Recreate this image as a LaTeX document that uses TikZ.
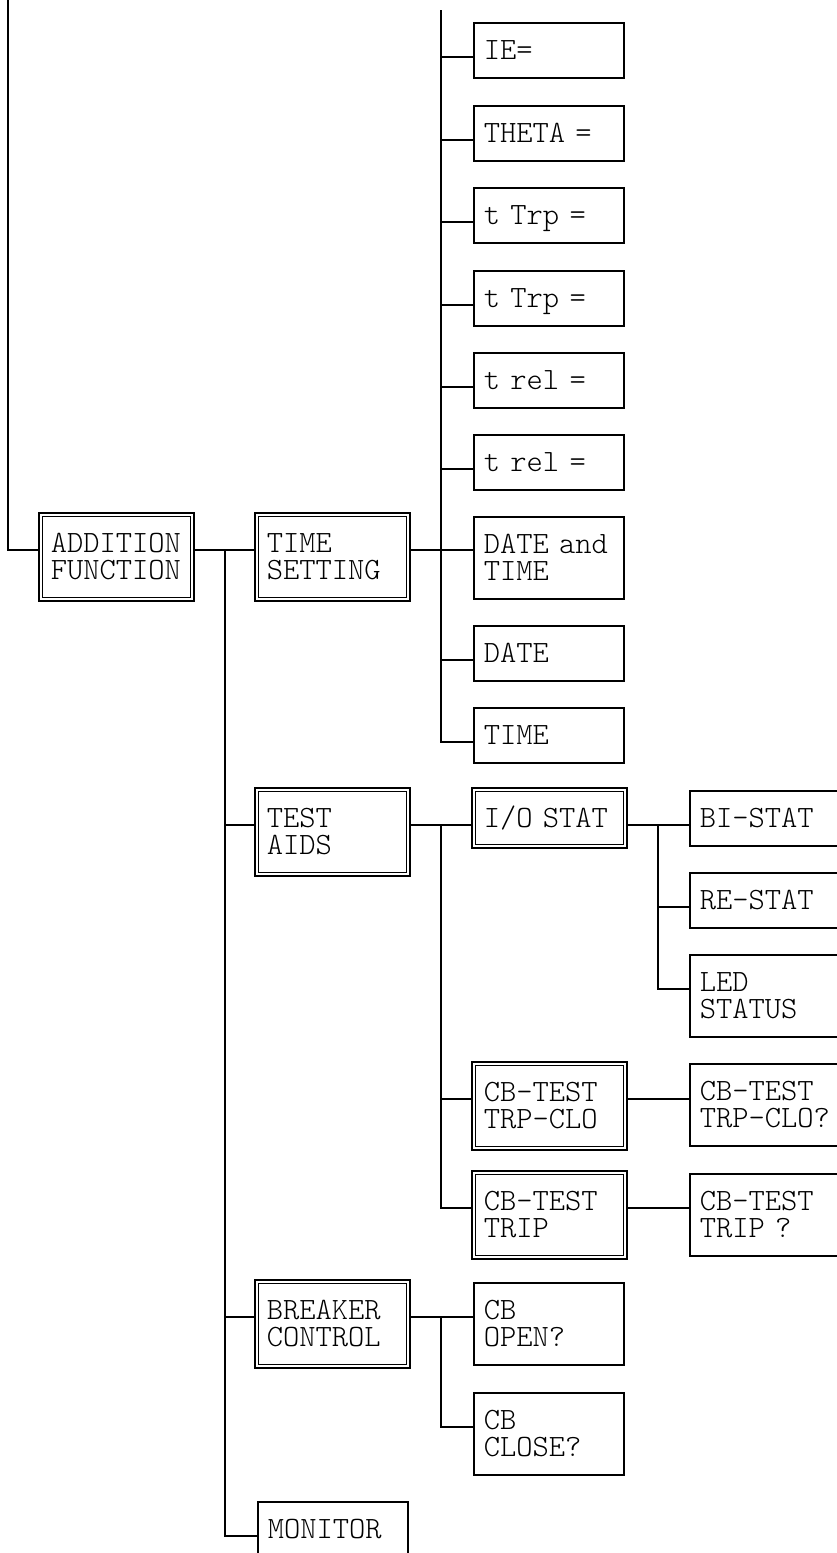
\documentclass[tikz,border=0pt]{standalone}
\usepackage{fontspec}
\usepackage{tikz}

\begin{document}
\begin{tikzpicture}[x=1pt,y=-1pt,
  item/.style={draw,line width=1.8pt,outer sep=0pt,anchor=north west,minimum width=150pt,minimum height=55pt,text width=130.5pt,inner xsep=9.75pt,align=left,text height=18pt,text depth=0pt,font=\ttfamily\fontseries{l}\fontsize{31}{27.5}\selectfont},
  two/.style={text depth=27.5pt,minimum height=82pt},
  menu/.style={item,double,line width=1.2pt,double distance=2.4pt,outer sep=1.8pt,minimum width=151.4pt,minimum height=84.4pt,text width=131.5pt,text depth=27.5pt},
  ln/.style={line width=1.8pt}
]
\useasboundingbox (0,0) rectangle (837,1553);
\clip (0,0) rectangle (837,1553);
% Menu levels
\node[menu]      (addfn)    at (39,513)   {ADDITION\\FUNCTION};
\node[menu]      (timeset)  at (255,513)  {TIME\\SETTING};
\node[menu]      (testaids) at (255,788)  {TEST\\AIDS};
\node[menu]      (breaker)  at (255,1280) {BREAKER\\CONTROL};
\node[item]      (monitor)  at (258,1502) {MONITOR};
% Setting values
\node[item]      (ie)       at (474,23)   {IE=};
\node[item]      (theta)    at (474,106)  {THETA =};
\node[item]      (ttrpa)    at (474,188)  {t Trp =};
\node[item]      (ttrpb)    at (474,271)  {t Trp =};
\node[item]      (trela)    at (474,353)  {t rel =};
\node[item]      (trelb)    at (474,435)  {t rel =};
\node[item,two]  (dt)       at (474,517)  {DATE and\\TIME};
\node[item]      (date)     at (474,626)  {DATE};
\node[item]      (time)     at (474,708)  {TIME};
% Test aids
\node[menu,text depth=0pt,minimum height=56.4pt] (iostat) at (472,788) {I/O STAT};
\node[menu]      (cbtc)     at (472,1062) {CB-TEST\\TRP-CLO};
\node[menu]      (cbtt)     at (472,1171) {CB-TEST\\TRIP};
\node[item]      (bistat)   at (690,791)  {BI-STAT};
\node[item]      (restat)   at (690,873)  {RE-STAT};
\node[item,two]  (led)      at (690,955)  {LED\\STATUS};
\node[item,two]  (cbtcq)    at (690,1064) {CB-TEST\\TRP-CLO?};
\node[item,two]  (cbttq)    at (690,1174) {CB-TEST\\TRIP ?};
% Breaker control
\node[item,two]  (cbopen)   at (474,1283) {CB\\OPEN?};
\node[item,two]  (cbclose)  at (474,1393) {CB\\CLOSE?};

% Trunk lines
\coordinate (up) at (8,-5);
\coordinate (ta) at (225,0);
\coordinate (tb) at (441,10);
\coordinate (tc) at (441,0);
\coordinate (td) at (658,0);

% Connectors
\draw[ln] (up) |- (addfn.mid west);
\draw[ln] (addfn.mid east) -- (addfn.mid east -| timeset.west);
\draw[ln] (ta |- addfn.mid east) |- (monitor.mid west);
\draw[ln] (ta |- testaids.mid west) -- (testaids.mid west);
\draw[ln] (ta |- breaker.mid west) -- (breaker.mid west);

\draw[ln] (timeset.mid east) -- (timeset.mid east -| dt.west);
\draw[ln] (tb) |- (time.mid west);
\draw[ln] (tb |- ie.mid west) -- (ie.mid west);
\draw[ln] (tb |- theta.mid west) -- (theta.mid west);
\draw[ln] (tb |- ttrpa.mid west) -- (ttrpa.mid west);
\draw[ln] (tb |- ttrpb.mid west) -- (ttrpb.mid west);
\draw[ln] (tb |- trela.mid west) -- (trela.mid west);
\draw[ln] (tb |- trelb.mid west) -- (trelb.mid west);
\draw[ln] (tb |- date.mid west) -- (date.mid west);

\draw[ln] (testaids.mid east) -- (testaids.mid east -| iostat.west);
\draw[ln] (tc |- iostat.mid west) |- (cbtt.mid west);
\draw[ln] (tc |- cbtc.mid west) -- (cbtc.mid west);
\draw[ln] (iostat.mid east) -- (iostat.mid east -| bistat.west);
\draw[ln] (td |- iostat.mid east) |- (led.mid west);
\draw[ln] (td |- restat.mid west) -- (restat.mid west);
\draw[ln] (cbtc.mid east) -- (cbtc.mid east -| cbtcq.west);
\draw[ln] (cbtt.mid east) -- (cbtt.mid east -| cbttq.west);

\draw[ln] (breaker.mid east) -- (breaker.mid east -| cbopen.west);
\draw[ln] (tc |- breaker.mid east) |- (cbclose.mid west);
\end{tikzpicture}
\end{document}
